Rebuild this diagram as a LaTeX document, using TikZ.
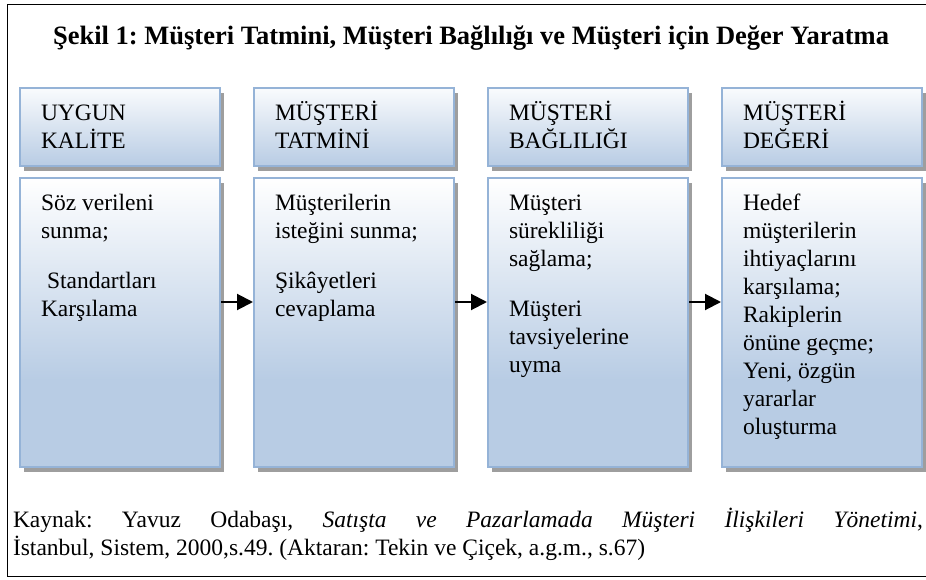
\documentclass[tikz,border=0pt]{standalone}
\usepackage{fontspec}
\setmainfont{Liberation Serif}
\usetikzlibrary{arrows.meta,shadows}
\definecolor{bb}{HTML}{B8CCE4}
\definecolor{bd}{HTML}{95B3D7}
\pgfdeclareverticalshading{bodyshade}{100bp}{color(0bp)=(bb); color(40bp)=(bb); color(75bp)=(white); color(100bp)=(white)}
\frenchspacing
\begin{document}
\begin{tikzpicture}[x=1pt,y=-1pt,
  box/.style={draw=bd, line width=2pt, minimum width=200pt, inner sep=0pt,
    general shadow={fill=black!38, shadow xshift=4pt, shadow yshift=-5pt}},
  hdr/.style={box, minimum height=78pt, top color=bb!8!white, bottom color=bb},
  bodybox/.style={box, minimum height=289pt, shading=bodyshade},
  txt/.style={anchor=north west, inner sep=0pt, outer sep=0pt, align=left,
    font=\fontsize{23.5}{28}\selectfont},
  arr/.style={line width=2pt, -{Triangle[length=16pt,width=16pt]}}
]
\clip (0,0) rectangle (926,580);
\fill[white] (0,0) rectangle (926,580);
\draw[line width=1.6pt] (7.5,4.5) rectangle (940,576.5);

\node[font=\bfseries\fontsize{26.5}{30}\selectfont, anchor=base] (title) at (471,45)
  {Şekil 1: Müşteri Tatmini, Müşteri Bağlılığı ve Müşteri için Değer Yaratma};

% header boxes
\node[hdr] (h1) at (120,127) {};
\node[hdr] (h2) at (354,127) {};
\node[hdr] (h3) at (588,127) {};
\node[hdr] (h4) at (822,127) {};
% body boxes
\node[bodybox] (b1) at (120,322.5) {};
\node[bodybox] (b2) at (354,322.5) {};
\node[bodybox] (b3) at (588,322.5) {};
\node[bodybox] (b4) at (822,322.5) {};

% header texts
\node[txt] (h1t) at ([xshift=22pt,yshift=-9.5pt]h1.north west) {\rule{0pt}{24pt}UYGUN\\KALİTE};
\node[txt] (h2t) at ([xshift=22pt,yshift=-9.5pt]h2.north west) {\rule{0pt}{24pt}MÜŞTERİ\\TATMİNİ};
\node[txt] (h3t) at ([xshift=22pt,yshift=-9.5pt]h3.north west) {\rule{0pt}{24pt}MÜŞTERİ\\BAĞLILIĞI};
\node[txt] (h4t) at ([xshift=22pt,yshift=-9.5pt]h4.north west) {\rule{0pt}{24pt}MÜŞTERİ\\DEĞERİ};

% body texts
\node[txt] (b1t) at ([xshift=22pt,yshift=-9pt]b1.north west)
  {\rule{0pt}{24pt}Söz verileni\\sunma;\\[22pt]\hspace*{6pt}Standartları\\Karşılama};
\node[txt] (b2t) at ([xshift=22pt,yshift=-9pt]b2.north west)
  {\rule{0pt}{24pt}Müşterilerin\\isteğini sunma;\\[22pt]Şikâyetleri\\cevaplama};
\node[txt] (b3t) at ([xshift=22pt,yshift=-9pt]b3.north west)
  {\rule{0pt}{24pt}Müşteri\\sürekliliği\\sağlama;\\[22pt]Müşteri\\tavsiyelerine\\uyma};
\node[txt] (b4t) at ([xshift=22pt,yshift=-9pt]b4.north west)
  {\rule{0pt}{24pt}Hedef\\müşterilerin\\ihtiyaçlarını\\karşılama;\\Rakiplerin\\önüne geçme;\\Yeni, özgün\\yararlar\\oluşturma};

% arrows
\draw[arr] ([yshift=20.5pt]b1.east) -- ([yshift=20.5pt]b2.west);
\draw[arr] ([yshift=20.5pt]b2.east) -- ([yshift=20.5pt]b3.west);
\draw[arr] ([yshift=20.5pt]b3.east) -- ([yshift=20.5pt]b4.west);

% caption
\node[txt] (cap) at (13,503)
  {\rule{0pt}{24pt}\makebox[910pt][s]{Kaynak: Yavuz Odabaşı, \textit{Satışta ve Pazarlamada Müşteri İlişkileri Yönetimi},}\\İstanbul, Sistem, 2000,s.49. (Aktaran: Tekin ve Çiçek, a.g.m., s.67)};
\end{tikzpicture}
\end{document}
